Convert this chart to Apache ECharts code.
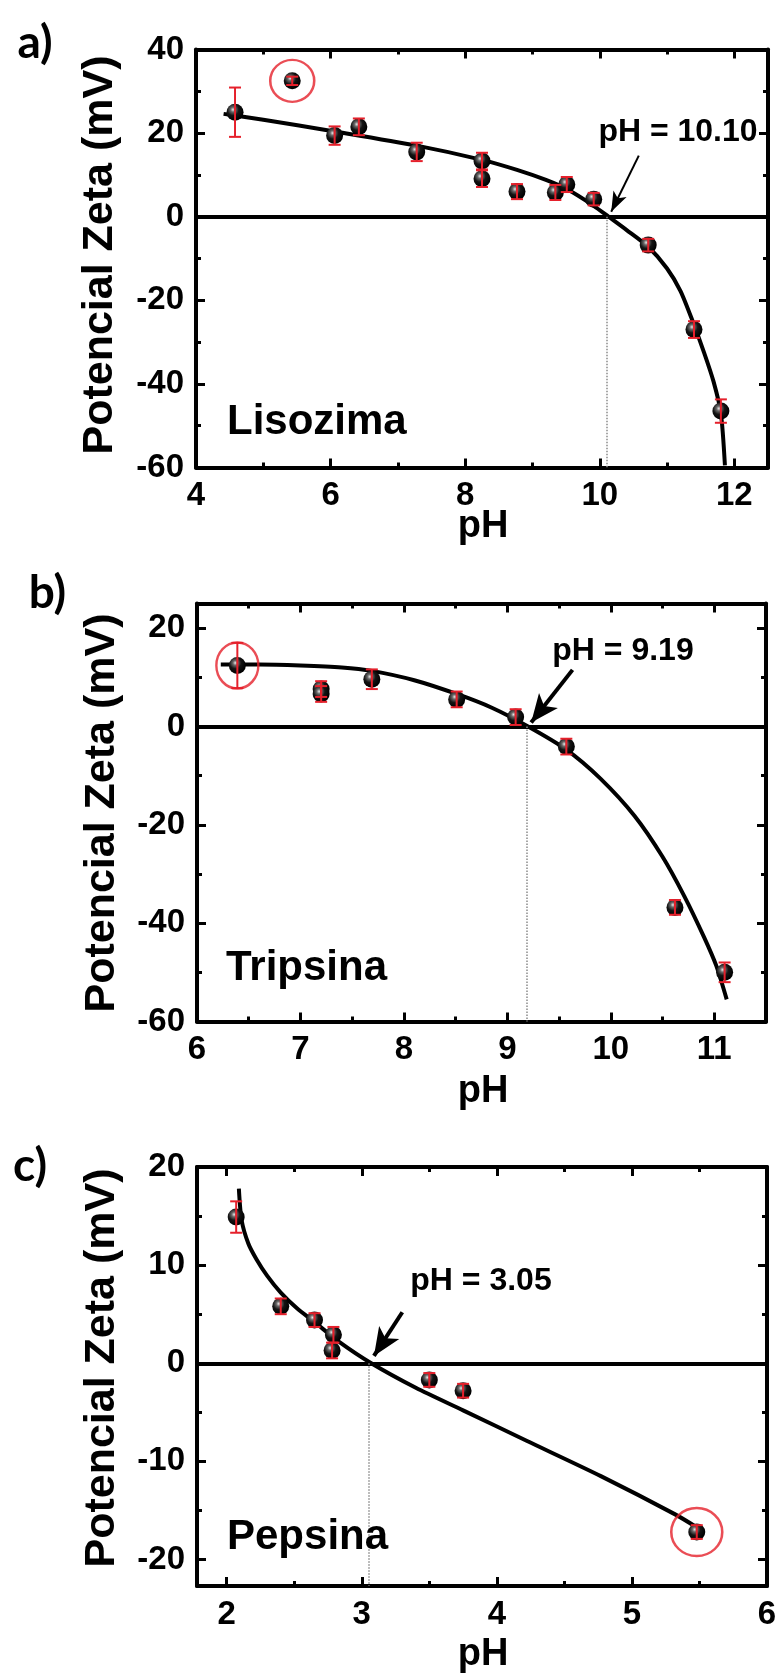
<!DOCTYPE html>
<html><head><meta charset="utf-8">
<script src="https://cdn.jsdelivr.net/npm/echarts@6/dist/echarts.min.js"></script>
<style>html,body{margin:0;padding:0;background:#fff}#c{width:777px;height:1675px}</style>
</head><body><div id="c"></div>
<script>
// ---------- Panel a) Lisozima ----------
const phA   = [4.58, 5.43, 6.06, 6.42, 7.28, 8.25, 8.25, 8.77, 9.34, 9.51, 9.91, 10.72, 11.40, 11.80];
const zetaA = [25.0, 32.5, 19.4, 21.5, 15.5, 13.3, 9.1, 6.0, 5.8, 7.7, 4.2, -6.8, -27.0, -46.5];
const errA  = [5.9, 1.0, 2.2, 2.0, 2.2, 2.0, 2.0, 1.8, 1.8, 1.8, 1.5, 1.5, 2.0, 2.8];
const fitAx = [4.41, 5.0, 6.06, 7.28, 8.25, 8.77, 9.2, 9.51, 9.91, 10.13, 10.4, 10.72, 11.0, 11.2, 11.38, 11.55, 11.69, 11.8, 11.86];
const fitAy = [24.6, 23.2, 20.4, 17.0, 13.6, 11.2, 8.8, 6.6, 2.6, 0, -3.2, -7.2, -12.4, -17.8, -25.0, -32.5, -39.4, -47.0, -59.5];
const circleA = [5.43, 32.5];
const pIA = 10.10;
const xMajorA = [4, 6, 8, 10, 12], xMinorA = [5, 7, 9, 11];
const yMajorA = [-60, -40, -20, 0, 20, 40], yMinorA = [-50, -30, -10, 10, 30];

// ---------- Panel b) Tripsina ----------
const phB   = [6.39, 7.20, 7.20, 7.69, 8.51, 9.08, 9.57, 10.62, 11.10];
const zetaB = [12.4, 7.6, 6.6, 9.6, 5.5, 1.9, -4.1, -36.8, -50.0];
const errB  = [4.6, 1.6, 1.6, 2.0, 1.6, 1.6, 1.6, 1.5, 2.0];
const fitBx = [6.23, 6.6, 7.0, 7.4, 7.69, 8.1, 8.51, 8.85, 9.2, 9.57, 9.9, 10.23, 10.5, 10.71, 10.9, 11.02, 11.12];
const fitBy = [12.6, 12.6, 12.4, 12.0, 11.3, 9.4, 6.6, 3.8, 0, -4.7, -10.6, -18.2, -26.5, -34.5, -42.8, -48.7, -55.5];
const circleB = [6.39, 12.4];
const pIB = 9.19;
const xMajorB = [6, 7, 8, 9, 10, 11], xMinorB = [6.5, 7.5, 8.5, 9.5, 10.5];
const yMajorB = [-60, -40, -20, 0, 20], yMinorB = [-50, -30, -10, 10];

// ---------- Panel c) Pepsina ----------
const phC   = [2.07, 2.40, 2.65, 2.79, 2.78, 3.50, 3.75, 5.48];
const zetaC = [14.9, 5.8, 4.4, 2.9, 1.3, -1.7, -2.8, -17.2];
const errC  = [1.6, 0.8, 0.7, 0.8, 0.8, 0.7, 0.7, 0.7];
const fitCx = [2.09, 2.11, 2.16, 2.22, 2.30, 2.40, 2.52, 2.65, 2.83, 3.07, 3.4, 3.75, 4.22, 4.77, 5.32, 5.49];
const fitCy = [17.8, 14.6, 12.2, 10.6, 8.9, 7.2, 5.6, 4.2, 2.2, 0, -2.5, -4.8, -7.9, -11.5, -15.4, -16.8];
const circleC = [5.48, -17.2];
const pIC = 3.05;
const xMajorC = [2, 3, 4, 5, 6], xMinorC = [2.5, 3.5, 4.5, 5.5];
const yMajorC = [-20, -10, 0, 10, 20], yMinorC = [-15, -5, 5, 15];

// ---------- texts ----------
const panelLetters = ['a)', 'b)', 'c)'];
const proteinNames = ['Lisozima', 'Tripsina', 'Pepsina'];
const pILabels = ['pH = 10.10', 'pH = 9.19', 'pH = 3.05'];
const xTitle = 'pH';
const yTitle = 'Potencial Zeta (mV)';

const FONT = '"Liberation Sans", Arial, sans-serif';
const RED = '#e5202b';
const BALL = {type:'radial', x:0.38, y:0.35, r:0.62, colorStops:[
  {offset:0, color:'#e8e8e8'}, {offset:0.22, color:'#6a6a6a'}, {offset:0.55, color:'#141414'}, {offset:1, color:'#000'}]};

const panels = [
  {grid:[196, 49.5, 572, 418], xMin:4, xMax:12.5, yMin:-60, yMax:40,
   xMajor:xMajorA, xMinor:xMinorA, yMajor:yMajorA, yMinor:yMinorA,
   ph:phA, zeta:zetaA, err:errA, fitX:fitAx, fitY:fitAy, circle:circleA, circleSize:[44, 42], pI:pIA,
   arrowTail:[10.58, 14.6], arrowTip:[10.17, 1.2], arrowW:2, arrowHead:[11, 20]},
  {grid:[197, 603.5, 569, 418], xMin:6, xMax:11.5, yMin:-60, yMax:25,
   xMajor:xMajorB, xMinor:xMinorB, yMajor:yMajorB, yMinor:yMinorB,
   ph:phB, zeta:zetaB, err:errB, fitX:fitBx, fitY:fitBy, circle:circleB, circleSize:[42, 46], pI:pIB,
   arrowTail:[9.63, 11.5], arrowTip:[9.23, 0.8], arrowW:4, arrowHead:[18, 28]},
  {grid:[197, 1167, 570, 419], xMin:1.78, xMax:6, yMin:-22.7, yMax:20,
   xMajor:xMajorC, xMinor:xMinorC, yMajor:yMajorC, yMinor:yMinorC,
   ph:phC, zeta:zetaC, err:errC, fitX:fitCx, fitY:fitCy, circle:circleC, circleSize:[51, 48], pI:pIC,
   arrowTail:[3.30, 5.2], arrowTip:[3.09, 0.75], arrowW:4, arrowHead:[18, 28]}
];

function ax(gi, min, max, pos, ticks, len, showLine, labelVals) {
  return {
    type:'value', gridIndex:gi, min:min, max:max, position:pos, scale:true,
    axisLine:{show:showLine, onZero:false, lineStyle:{color:'#000', width:4}},
    axisTick:{show:true, inside:true, length:len, customValues:ticks, lineStyle:{color:'#000', width:3}},
    axisLabel: labelVals ? {show:true, customValues:labelVals, margin:12, color:'#000',
      fontSize:33, fontWeight:'bold', fontFamily:FONT} : {show:false},
    splitLine:{show:false}, minorTick:{show:false}, minorSplitLine:{show:false},
    axisPointer:{show:false}, silent:true
  };
}

function errRender(params, api) {
  const x = api.value(0), y = api.value(1), e = api.value(2);
  const t = api.coord([x, y + e]), b = api.coord([x, y - e]);
  const hw = 6;
  const st = {stroke:RED, lineWidth:2};
  return {type:'group', children:[
    {type:'line', shape:{x1:t[0], y1:t[1], x2:b[0], y2:b[1]}, style:st},
    {type:'line', shape:{x1:t[0]-hw, y1:t[1], x2:t[0]+hw, y2:t[1]}, style:st},
    {type:'line', shape:{x1:b[0]-hw, y1:b[1], x2:b[0]+hw, y2:b[1]}, style:st}
  ]};
}

const grids = [], xAxes = [], yAxes = [], series = [];
panels.forEach((p, gi) => {
  grids.push({left:p.grid[0], top:p.grid[1], width:p.grid[2], height:p.grid[3],
    containLabel:false, outerBoundsMode:'none', show:false});
  const xi = xAxes.length, yi = yAxes.length;
  xAxes.push(ax(gi, p.xMin, p.xMax, 'bottom', p.xMajor, 9, true, p.xMajor));
  xAxes.push(ax(gi, p.xMin, p.xMax, 'bottom', p.xMinor, 5, false, null));
  xAxes.push(ax(gi, p.xMin, p.xMax, 'top', p.xMajor, 9, true, null));
  xAxes.push(ax(gi, p.xMin, p.xMax, 'top', p.xMinor, 5, false, null));
  yAxes.push(ax(gi, p.yMin, p.yMax, 'left', p.yMajor, 9, true, p.yMajor));
  yAxes.push(ax(gi, p.yMin, p.yMax, 'left', p.yMinor, 5, false, null));
  yAxes.push(ax(gi, p.yMin, p.yMax, 'right', p.yMajor, 9, true, null));
  yAxes.push(ax(gi, p.yMin, p.yMax, 'right', p.yMinor, 5, false, null));

  series.push({
    type:'line', xAxisIndex:xi, yAxisIndex:yi, z:3, silent:true,
    data:p.fitX.map((x, i) => [x, p.fitY[i]]),
    showSymbol:false, symbol:'none', smooth:0.25,
    lineStyle:{color:'#000', width:4},
    markLine:{
      silent:true, symbol:'none', animation:false, label:{show:false}, emphasis:{disabled:true},
      data:[
        [{coord:[p.xMin, 0], symbol:'none', lineStyle:{color:'#000', width:4, type:'solid'}}, {coord:[p.xMax, 0], symbol:'none'}],
        [{coord:[p.pI, 0], symbol:'none', lineStyle:{color:'#8a8a8a', width:1.5, type:'dotted'}}, {coord:[p.pI, p.yMin], symbol:'none'}],
        [{coord:p.arrowTail, symbol:'none', lineStyle:{color:'#000', width:p.arrowW, type:'solid'}},
         {coord:p.arrowTip, symbol:'arrow', symbolSize:p.arrowHead}]
      ]
    }
  });
  series.push({
    type:'scatter', xAxisIndex:xi, yAxisIndex:yi, z:4, silent:true,
    data:p.ph.map((x, i) => [x, p.zeta[i]]),
    symbol:'circle', symbolSize:17, itemStyle:{color:BALL, opacity:1}
  });
  series.push({
    type:'custom', xAxisIndex:xi, yAxisIndex:yi, z:5, silent:true,
    data:p.ph.map((x, i) => [x, p.zeta[i], p.err[i]]),
    encode:{x:0, y:1}, renderItem:errRender
  });
  series.push({
    type:'scatter', xAxisIndex:xi, yAxisIndex:yi, z:6, silent:true,
    data:[p.circle], symbol:'circle', symbolSize:p.circleSize,
    itemStyle:{color:'rgba(0,0,0,0)', borderColor:RED, borderWidth:2.5}
  });
});

function txt(text, x, y, size, opts) {
  opts = opts || {};
  return {type:'text', x:x, y:y, rotation:opts.rot || 0, silent:true, z:10,
    style:{text:text, fill:'#000', font:'bold ' + size + 'px ' + (opts.font || FONT),
      textAlign:opts.align || 'center', align:opts.align || 'center',
      textVerticalAlign:'middle', verticalAlign:'middle'}};
}

const letterPos = [[35, 43.5], [47.5, 593.5], [30, 1166]];
const namePos = [[227, 422], [226, 968], [227, 1537]];
const pIPos = [[678, 132], [623, 651], [481, 1281]];
const xTitlePos = [[483, 527], [483, 1092], [483, 1655]];
const yTitlePos = [[100, 255], [102, 813], [102, 1368]];

const graphics = [];
for (let i = 0; i < 3; i++) {
  graphics.push(txt(panelLetters[i], letterPos[i][0], letterPos[i][1], 46, {font:'Lato, "Open Sans", sans-serif'}));
  graphics.push(txt(proteinNames[i], namePos[i][0], namePos[i][1], 42, {align:'left'}));
  graphics.push(txt(pILabels[i], pIPos[i][0], pIPos[i][1], 32));
  graphics.push(txt(xTitle, xTitlePos[i][0], xTitlePos[i][1], 38));
  graphics.push(txt(yTitle, yTitlePos[i][0], yTitlePos[i][1], 43, {rot:Math.PI / 2}));
}

const chart = echarts.init(document.getElementById('c'), null, {renderer:'canvas', width:777, height:1675});
chart.setOption({
  animation:false, backgroundColor:'#fff',
  grid:grids, xAxis:xAxes, yAxis:yAxes, series:series, graphic:graphics
});
</script>
</body></html>
